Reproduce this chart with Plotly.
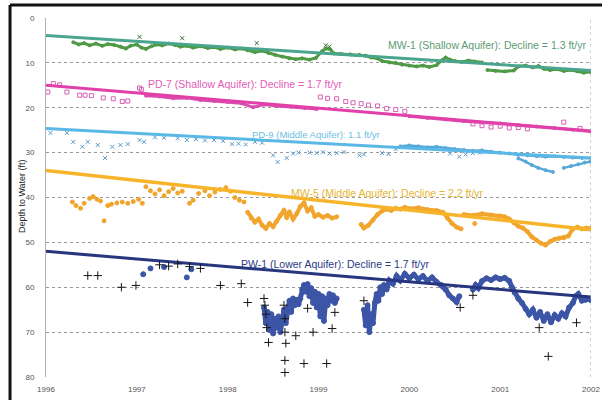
import plotly.graph_objects as go

# ---------------- data (decimal year, depth to water in ft) ----------------
x_tickvals = [1996, 1997, 1998, 1999, 2000, 2001, 2002]
x_ticktext = ["1996", "1997", "1998", "1999", "2000", "2001", "2002"]
y_tickvals = [0, 10, 20, 30, 40, 50, 60, 70, 80]

trend_years = [1996, 2002]

# MW-1 (Shallow Aquifer)
mw1_trend = [3.9, 11.7]
mw1_t = [1996.30, 1996.36, 1996.42, 1996.48, 1996.55, 1996.62, 1996.68, 1996.75, 1996.82, 1996.88,
         1996.93, 1997.00, 1997.05, 1997.10, 1997.16, 1997.22, 1997.28, 1997.35, 1997.42, 1997.48,
         1997.55, 1997.62, 1997.70, 1997.78, 1997.85, 1997.92, 1998.00, 1998.08, 1998.15, 1998.22,
         1998.30, 1998.38, 1998.45, 1998.52, 1998.60, 1998.68, 1998.75, 1998.82, 1998.90, 1998.97,
         1999.04, 1999.08, 1999.13, 1999.17, 1999.25, 1999.35, 1999.45, 1999.52, 1999.58, 1999.65,
         1999.70, 1999.78, 1999.85, 1999.92, 2000.00, 2000.08, 2000.15, 2000.22, 2000.30, 2000.36,
         2000.40, 2000.45, 2000.50, 2000.58, 2000.65, 2000.72, 2000.80, None,
         2000.86, 2000.95, 2001.05, 2001.15, 2001.20, 2001.28, 2001.36, 2001.42, 2001.48, 2001.55,
         2001.62, 2001.70, 2001.78, 2001.85, 2001.92, 2001.99]
mw1_d = [5.4, 5.9, 5.6, 6.1, 5.7, 6.2, 5.8, 6.0, 6.4, 6.8,
         6.2, 5.9, 6.6, 6.9, 6.3, 5.9, 6.1, 5.7, 6.0, 6.4,
         6.2, 6.6, 6.3, 6.7, 6.5, 6.9, 6.6, 7.0, 6.8, 7.2,
         7.6, 7.3, 7.8, 8.2, 8.6, 9.0, 9.2, 9.0, 9.3, 8.9,
         7.4, 6.8, 7.0, 7.9, 8.0, 8.1, 8.2, 8.4, 8.8, 9.0,
         9.6, 9.9, 10.0, 10.4, 10.6, 10.8, 10.6, 10.9, 10.5, 9.4,
         8.8, 9.3, 9.6, 9.8, 9.5, 9.7, 9.9, None,
         11.6, 11.8, 11.9, 11.7, 10.8, 10.6, 11.0, 10.7, 11.3, 11.6,
         11.4, 11.8, 11.6, 11.9, 12.2, 12.0]
mw1_spike_t = [1997.03, 1997.50, 1998.32, 1999.08, 1999.12]
mw1_spike_d = [4.2, 4.5, 5.6, 6.1, 6.4]

# PD-7 (Shallow Aquifer)
pd7_trend = [15.0, 25.2]
pd7_sparse_t = [1996.02, 1996.08, 1996.15, 1996.23, 1996.37, 1996.43, 1996.50, 1996.63, 1996.74, 1996.84,
                1996.90, 1997.03, 1997.05, 1999.02, 1999.10, 1999.20, 1999.30, 1999.38, 1999.47, 1999.55,
                1999.65, 1999.75, 1999.85, 1999.95, 2000.70, 2000.80, 2000.90, 2001.00, 2001.10, 2001.20,
                2001.30, 2001.70, 2001.88]
pd7_sparse_d = [16.5, 14.6, 14.9, 16.5, 17.2, 17.2, 17.3, 17.8, 18.0, 18.6,
                18.5, 15.6, 15.9, 17.6, 17.9, 18.0, 18.6, 18.9, 19.1, 19.4,
                19.6, 20.2, 20.4, 20.8, 23.6, 24.0, 24.3, 24.1, 24.5, 24.4,
                24.7, 23.2, 24.6]
pd7_t = [1997.10, 1997.25, 1997.40, 1997.55, 1997.70, 1997.85, 1998.00, 1998.15, 1998.28, 1998.40,
         1998.55, 1998.70, 1998.85, 1998.98, None,
         2000.00, 2000.20, 2000.40, 2000.60, 2000.80, 2001.00, 2001.20, 2001.40, 2001.60, 2001.80, 2002.00]
pd7_d = [17.3, 17.5, 17.9, 17.8, 18.3, 18.5, 18.7, 19.0, 19.9, 19.3,
         19.6, 19.8, 20.1, 20.3, None,
         21.9, 22.3, 22.6, 23.0, 23.3, 23.5, 23.9, 24.2, 24.5, 24.9, 25.3]

# PD-9 (Middle Aquifer)
pd9_trend = [24.6, 31.2]
pd9_sparse_t = [1996.05, 1996.23, 1996.30, 1996.40, 1996.46, 1996.57, 1996.65, 1996.73, 1996.82, 1996.90,
                1997.03, 1997.08, 1997.20, 1997.30, 1997.45, 1997.55, 1997.65, 1997.75, 1997.85, 1997.95,
                1998.05, 1998.12, 1998.20, 1998.30, 1998.38, 1998.50, 1998.55, 1998.65, 1998.72, 1998.78,
                1998.90, 1998.98, 1999.05, 1999.12, 1999.20, 1999.28, 1999.45, 1999.50, 1999.70, 1999.77,
                1999.85, 2000.45, 2000.55, 2000.62, 2000.70, 2000.78]
pd9_sparse_d = [25.6, 25.6, 27.6, 28.7, 27.6, 28.3, 31.2, 28.7, 28.3, 28.1,
                27.2, 27.6, 26.6, 26.7, 26.8, 27.2, 27.0, 27.3, 27.2, 27.4,
                28.1, 28.0, 28.2, 27.6, 27.8, 30.6, 32.1, 31.2, 30.2, 30.0,
                30.0, 30.1, 29.9, 30.2, 30.1, 29.9, 30.6, 30.4, 30.1, 30.3,
                29.2, 30.2, 30.9, 30.4, 30.1, 30.0]
pd9_t = [1999.90, 2000.00, 2000.10, 2000.20, 2000.30, 2000.40, 2000.50, 2000.60, 2000.70, 2000.80,
         2000.90, 2001.00, 2001.10, 2001.20, 2001.30, 2001.40, 2001.50, 2001.60, 2001.70, 2001.80,
         2001.90, 2002.00, None,
         2001.20, 2001.28, 2001.35, 2001.42, 2001.50, 2001.58, None,
         2001.70, 2001.78, 2001.86, 2001.93, 2001.99]
pd9_d = [28.6, 28.4, 28.6, 28.8, 28.7, 29.0, 29.2, 29.4, 29.6, 29.5,
         29.8, 30.0, 30.2, 30.5, 30.6, 30.8, 30.9, 30.8, 31.0, 31.1,
         31.2, 31.2, None,
         31.3, 32.0, 32.8, 33.4, 33.9, 34.3, None,
         33.4, 33.0, 32.6, 32.2, 32.0]

# MW-5 (Middle Aquifer)
mw5_trend = [34.0, 47.2]
mw5_sparse_t = [1996.29, 1996.33, 1996.38, 1996.42, 1996.48, 1996.52, 1996.56, 1996.60, 1996.64, 1996.68,
                1996.72, 1996.78, 1996.84, 1996.90, 1996.96, 1997.02, 1997.06, 1997.10, 1997.15, 1997.20,
                1997.25, 1997.30, 1997.35, 1997.40, 1997.45, 1997.50, 1997.58, 1997.62, 1997.68, 1997.75,
                1997.80, 1997.86, 1997.92, 1997.98, 1998.03, 1998.08, 1998.13, 1998.18, 2000.72]
mw5_sparse_d = [41.0, 41.8, 42.4, 41.3, 40.2, 39.8, 40.4, 40.8, 45.2, 41.8,
                41.5, 41.2, 41.0, 41.3, 40.9, 40.4, 41.3, 37.6, 38.5, 39.2,
                38.3, 39.6, 38.7, 38.0, 39.0, 38.6, 41.3, 40.6, 39.1, 38.5,
                39.6, 38.8, 38.2, 37.8, 38.6, 40.0, 40.6, 41.0, 45.8]
mw5_t = [1998.22, 1998.26, 1998.30, 1998.34, 1998.38, 1998.42, 1998.46, 1998.50, 1998.54, 1998.58,
         1998.62, 1998.65, 1998.68, 1998.72, 1998.76, 1998.80, 1998.84, 1998.88, 1998.92, 1998.96,
         1999.00, 1999.05, 1999.10, 1999.15, 1999.20, None,
         1999.47, 1999.50, 1999.55, 1999.60, 1999.65, 1999.70, 1999.75, 1999.80, 1999.85, 1999.90,
         1999.95, 2000.00, 2000.10, 2000.20, 2000.30, 2000.37, 2000.42, 2000.47, 2000.52, 2000.57, None,
         2000.60, 2000.70, 2000.80, 2000.90, 2001.00, 2001.05, 2001.10, 2001.15, 2001.20, 2001.25,
         2001.30, 2001.35, 2001.40, 2001.45, 2001.50, 2001.55, 2001.60, 2001.65, 2001.70, 2001.75,
         2001.80, 2001.85, 2001.90, 2001.95, 2002.00]
mw5_d = [43.3, 44.6, 45.5, 44.8, 46.2, 46.9, 45.8, 46.5, 45.3, 44.0,
         42.8, 44.5, 43.2, 44.8, 43.6, 42.0, 41.2, 43.0, 42.3, 44.2,
         43.8, 44.4, 44.0, 44.6, 44.3, None,
         46.0, 46.8, 46.2, 45.0, 43.8, 43.0, 42.6, 42.9, 42.4, 42.6,
         42.2, 42.5, 42.3, 42.7, 42.9, 43.3, 44.6, 45.8, 46.6, 47.0, None,
         43.8, 44.0, 43.6, 43.9, 44.1, 44.3, 44.8, 45.6, 46.4, 46.8,
         47.6, 48.8, 49.5, 50.2, 50.6, 49.8, 49.3, 49.1, 49.0, 48.6,
         47.0, 46.6, 47.0, 46.8, 46.9]

# PW-1 (Lower Aquifer)
pw1_trend = [52.0, 62.2]
pw1_cross_t = [1996.46, 1996.57, 1996.83, 1996.99, 1997.25, 1997.35, 1997.45, 1997.58, 1997.70, 1997.92,
               1998.15, 1998.22, 1998.40, 1998.41, 1998.42, 1998.43, 1998.45, 1998.62, 1998.63, 1998.63,
               1998.64, 1998.63, 1998.63, 1998.75, 1998.84, 1998.88, 1998.94, 1999.09, 1999.15, 1999.18,
               1999.50, 2000.56, 2000.70, 2001.43, 2001.53, 2001.84]
pw1_cross_d = [57.4, 57.4, 60.0, 59.6, 55.0, 55.3, 54.8, 55.4, 55.8, 59.6,
               59.2, 63.4, 62.5, 64.0, 66.0, 69.0, 72.3, 64.0, 67.0, 70.0,
               72.5, 76.3, 79.0, 70.8, 77.0, 64.7, 70.0, 77.0, 69.2, 65.6,
               63.0, 64.5, 61.8, 69.0, 75.4, 67.9]
pw1_dot_t = [1997.07, 1997.15, 1997.30, 1997.55, 1997.60]
pw1_dot_d = [57.1, 55.8, 55.5, 57.8, 56.0]
pw1_t = [1998.40, 1998.42, 1998.44, 1998.46, 1998.48, 1998.50, 1998.52, 1998.54, 1998.56, 1998.58,
         1998.60, 1998.62, 1998.64, 1998.66, 1998.68, 1998.70, 1998.72, 1998.74, 1998.76, 1998.78,
         1998.80, 1998.82, 1998.84, 1998.86, 1998.88, 1998.90, 1998.92, 1998.94, 1998.96, 1998.98,
         1999.00, 1999.02, 1999.04, 1999.06, 1999.08, 1999.10, 1999.12, 1999.14, 1999.16, 1999.18,
         1999.20, None,
         1999.50, 1999.52, 1999.54, 1999.56, 1999.58, 1999.60, 1999.62, 1999.64, 1999.66, 1999.68,
         1999.70, 1999.72, 1999.75, 1999.78, 1999.82, 1999.86, 1999.90, 1999.95, 2000.00, 2000.05,
         2000.10, 2000.15, 2000.20, 2000.25, 2000.30, 2000.35, 2000.40, 2000.44, 2000.48, 2000.52,
         2000.55, None,
         2000.70, 2000.73, 2000.76, 2000.80, 2000.85, 2000.90, 2000.95, 2001.00, 2001.05, 2001.10,
         2001.13, 2001.16, 2001.20, 2001.24, 2001.28, 2001.32, 2001.36, 2001.40, 2001.44, 2001.48,
         2001.52, 2001.56, 2001.60, 2001.64, 2001.68, 2001.72, 2001.76, 2001.80, 2001.83, 2001.86,
         2001.90, 2001.94, 2001.98, 2002.00]
pw1_d = [64.5, 68.0, 65.5, 69.5, 66.0, 70.3, 67.0, 69.0, 66.5, 70.0,
         67.5, 65.0, 68.0, 64.5, 63.0, 65.5, 62.5, 64.0, 62.8, 63.8,
         62.5, 60.5, 59.5, 61.0, 59.3, 62.0, 60.2, 63.5, 61.0, 64.5,
         61.5, 66.5, 62.0, 67.5, 62.5, 64.0, 61.5, 63.0, 61.8, 63.5,
         62.5, None,
         65.0, 68.5, 64.0, 70.0, 66.0, 68.0, 63.5, 61.5, 63.0, 60.0,
         61.5, 59.5, 60.5, 58.5, 59.2, 57.5, 58.5, 57.0, 58.0, 57.2,
         58.2, 57.5, 58.6, 57.8, 58.8, 59.5, 60.5, 61.8, 62.5, 63.3,
         62.0, None,
         60.5, 59.5, 60.2, 58.6, 58.0, 58.4, 57.8, 58.2, 57.9, 58.6,
         60.0, 61.2, 62.5, 63.5, 64.8, 66.0, 65.0, 66.8, 65.5, 67.5,
         66.0, 67.8, 66.2, 67.0, 65.8, 66.5, 64.5, 63.5, 62.0, 61.5,
         63.0, 62.8, 62.6, 62.9]

labels = [
    "MW-1 (Shallow Aquifer): Decline = 1.3 ft/yr",
    "PD-7 (Shallow Aquifer): Decline = 1.7 ft/yr",
    "PD-9 (Middle Aquifer): 1.1 ft/yr",
    "MW-5 (Middle Aquifer): Decline = 2.2 ft/yr",
    "PW-1 (Lower Aquifer): Decline = 1.7 ft/yr",
]

# ---------------- figure ----------------
FONT = "Liberation Sans, Arial, sans-serif"
fig = go.Figure()

def add(x, y, mode, color, width=2, size=3, symbol="circle", line_color=None):
    fig.add_trace(go.Scatter(
        x=x, y=y, mode=mode, connectgaps=False, hoverinfo="skip",
        line=dict(color=line_color or color, width=width),
        marker=dict(color=color, size=size, symbol=symbol,
                    line=dict(color=color, width=1)),
        showlegend=False))

# MW-1
add(mw1_t, mw1_d, "lines+markers", "#4f9a45", width=3, size=3)
add(mw1_spike_t, mw1_spike_d, "markers", "#3b6e35", size=4, symbol="x-thin")
add(trend_years, mw1_trend, "lines", "#4aa58e", width=3)

# PD-7
add(pd7_t, pd7_d, "lines+markers", "#d94eb0", width=3, size=3)
add(pd7_sparse_t, pd7_sparse_d, "markers", "#d860b5", size=4, symbol="square-open")
add(trend_years, pd7_trend, "lines", "#e040a8", width=3)

# PD-9
add(pd9_t, pd9_d, "lines+markers", "#55a8d8", width=2.5, size=3)
add(pd9_sparse_t, pd9_sparse_d, "markers", "#5a9cc8", size=4, symbol="x-thin")
add(trend_years, pd9_trend, "lines", "#5ab8e6", width=3)

# MW-5
add(mw5_sparse_t, mw5_sparse_d, "markers", "#f0a52a", size=4)
add(mw5_t, mw5_d, "lines+markers", "#f2a52c", width=4, size=4)
add(trend_years, mw5_trend, "lines", "#f7b42a", width=3.5)

# PW-1
add(pw1_t, pw1_d, "lines+markers", "#3c55a6", width=5, size=5)
add(pw1_dot_t, pw1_dot_d, "markers", "#3c55a6", size=5)
add(trend_years, pw1_trend, "lines", "#27367e", width=3)
add(pw1_cross_t, pw1_cross_d, "markers", "#151515", size=6, symbol="cross-thin")

# labels
label_pos = [(2000.85, 6.0, "#5b9b74", 10.5), (1998.2, 14.7, "#e35cb8", 10.5),
             (1998.97, 25.9, "#6cc0e4", 9.5), (1999.76, 39.1, "#e6b532", 10.5),
             (1999.19, 54.9, "#2a3a86", 10.5)]
for text, (lx, ly, col, fs) in zip(labels, label_pos):
    fig.add_annotation(x=lx, y=ly, xref="x", yref="y", text=text, showarrow=False,
                       xanchor="center", yanchor="middle",
                       font=dict(family=FONT, size=fs, color=col))

fig.add_annotation(x=-0.044, y=0.504, xref="paper", yref="paper", text="Depth to Water (ft)",
                   textangle=-90, showarrow=False, xanchor="center", yanchor="middle",
                   font=dict(family=FONT, size=9, color="#222"))

# right dotted border and outer frame (top and left edges visible)
fig.add_shape(type="line", xref="x", yref="paper", x0=2002, x1=2002, y0=0, y1=1,
              line=dict(color="#aaaaaa", width=1, dash="dot"))
fig.add_shape(type="line", xref="paper", yref="paper", x0=-0.066, x1=1.03, y0=1.036, y1=1.036,
              line=dict(color="#111111", width=3))
fig.add_shape(type="line", xref="paper", yref="paper", x0=-0.066, x1=-0.066, y0=-0.08, y1=1.036,
              line=dict(color="#111111", width=3))

fig.update_xaxes(range=[1996, 2002], tickvals=x_tickvals, ticktext=x_ticktext, automargin=False,
                 showgrid=False, zeroline=False, showline=False,
                 ticks="", ticklabelstandoff=6, tickfont=dict(family=FONT, size=8, color="#555"))
fig.update_yaxes(range=[80, 0], tickvals=y_tickvals, showgrid=True, griddash="dot", automargin=False,
                 gridcolor="#9a9a9a", gridwidth=1, zeroline=False,
                 showline=True, linecolor="#b0b0b0", linewidth=1,
                 ticks="", ticklabelstandoff=9, tickfont=dict(family=FONT, size=8, color="#555"))

fig.update_layout(width=602, height=400, margin=dict(l=46, r=11, t=18, b=23),
                  paper_bgcolor="white", plot_bgcolor="white")

fig.write_html("out.html", config={"displayModeBar": False},
               post_script="document.body.style.margin='0px';")
